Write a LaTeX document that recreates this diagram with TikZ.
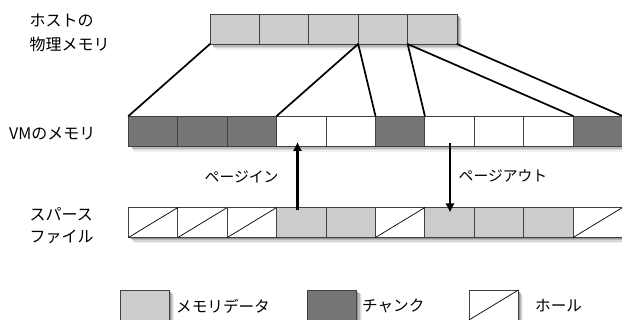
\documentclass[tikz,border=0pt]{standalone}
\usepackage{fontspec}
\setmainfont{Noto Sans CJK JP}
\usetikzlibrary{arrows.meta}
\definecolor{memgray}{HTML}{CCCCCC}
\definecolor{chunkgray}{HTML}{767676}
\definecolor{edgegray}{HTML}{404040}
\definecolor{shadeA}{HTML}{EFEFEF}
\definecolor{shadeB}{HTML}{D8D8D8}
\definecolor{shadeC}{HTML}{B8B8B8}
\definecolor{shadeD}{HTML}{949494}
\newcommand{\softbar}[4]{%
  \path[fill=shadeA] ({#1+5},{#2+5}) rectangle ({#3+5},{#4+6});
  \path[fill=shadeB] ({#1+4},{#2+4}) rectangle ({#3+4},{#4+4.5});
  \path[fill=shadeC] ({#1+3},{#2+3}) rectangle ({#3+3},{#4+3});
  \path[fill=shadeD] ({#1+2},{#2+2}) rectangle ({#3+1.5},{#4+1.5});
}
\tikzset{
  cellbox/.style={draw=edgegray,line width=.95pt,minimum width=49.4pt,minimum height=30pt,inner sep=0pt,outer sep=0pt,anchor=north west},
  memcell/.style={cellbox,fill=memgray},
  chunkcell/.style={cellbox,fill=chunkgray},
  holecell/.style={cellbox,fill=white},
  emptycell/.style={cellbox,fill=white},
  maplink/.style={line width=1.7pt,line cap=round,draw=black},
  slash/.style={line width=.7pt,draw=black},
  pagearrow/.style={line width=2.6pt,draw=black,-{Latex[length=9pt,width=9.5pt]}},
  lab/.style={font=\fontsize{16pt}{23pt}\selectfont,inner sep=0pt,anchor=west,align=left,text=black},
  smalllab/.style={font=\fontsize{14.8pt}{18pt}\selectfont,inner sep=0pt,anchor=west,text=black},
  leglab/.style={font=\fontsize{15.6pt}{18pt}\selectfont,inner sep=0pt,anchor=west,text=black}
}
\begin{document}
\begin{tikzpicture}[x=1pt,y=-1pt]
\useasboundingbox (0,0) rectangle (622,320);
% soft shadows, lightest first
\softbar{210}{14}{457}{44}
\softbar{128.5}{116}{622.5}{146}
\softbar{128.5}{207.5}{622.5}{237.5}
\softbar{120}{290}{169.4}{320}
\softbar{307.5}{290}{356.9}{320}
\softbar{469}{290}{518.4}{320}
% host memory
\foreach \i in {1,...,5}{
  \node[memcell] (t\i) at ({210+(\i-1)*49.4},14) {};
}
% VM memory
\foreach \i/\s in {1/chunkcell,2/chunkcell,3/chunkcell,4/emptycell,5/emptycell,6/chunkcell,7/emptycell,8/emptycell,9/emptycell,10/chunkcell}{
  \node[\s] (v\i) at ({128.5+(\i-1)*49.4},116) {};
}
% sparse file
\foreach \i/\s in {1/holecell,2/holecell,3/holecell,4/memcell,5/memcell,6/holecell,7/memcell,8/memcell,9/memcell,10/holecell}{
  \node[\s] (s\i) at ({128.5+(\i-1)*49.4},207.5) {};
}
\foreach \i in {1,2,3,6,10}{
  \draw[slash] (s\i.south west) -- (s\i.north east);
}
% mapping lines
\draw[maplink] (t1.south west) -- (v1.north west);
\draw[maplink] (t4.south west) -- (v4.north west);
\draw[maplink] (t4.south west) -- (v6.north west);
\draw[maplink] (t5.south west) -- (v7.north west);
\draw[maplink] (t5.south west) -- (v10.north west);
\draw[maplink] (t5.south east) -- (v10.north east);
% page arrows
\coordinate (inEnd) at (297.5,142);
\coordinate (inStart) at (297.5,210.5);
\coordinate (outStart) at (450,143);
\coordinate (outEnd) at (450,212.5);
\draw[pagearrow] (inStart) -- (inEnd);
\draw[pagearrow] (outStart) -- (outEnd);
% labels
\node[lab] (hostA) at (29.5,20.5) {ホストの};
\node[lab] (hostB) at (29.5,44) {物理メモリ};
\node[lab] (vmlab) at (9,134) {VMのメモリ};
\node[lab] (spA) at (29.5,214.5) {スパース};
\node[lab] (spB) at (29.5,237) {ファイル};
\node[smalllab] (pin) at (204.5,176.5) {ページイン};
\node[smalllab] (pout) at (458.5,175.5) {ページアウト};
% legend
\node[memcell] (lega) at (120,290) {};
\node[chunkcell] (legb) at (307.5,290) {};
\node[holecell] (legc) at (469,290) {};
\draw[slash] (legc.south west) -- (legc.north east);
\node[leglab] (lta) at (176,306) {メモリデータ};
\node[leglab] (ltb) at (362,306) {チャンク};
\node[leglab] (ltc) at (535,306) {ホール};
\end{tikzpicture}
\end{document}
